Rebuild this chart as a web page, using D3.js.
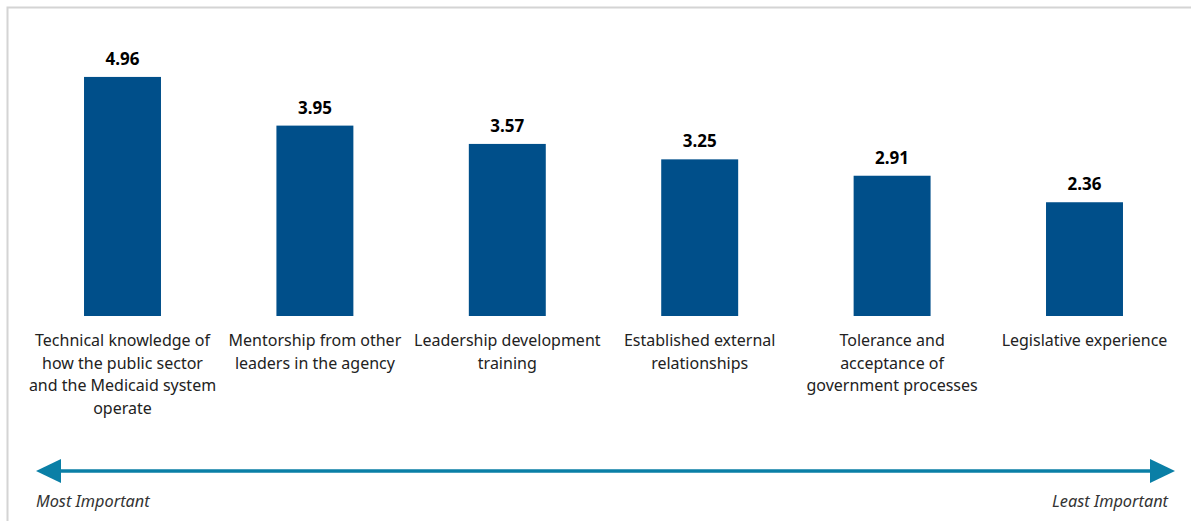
<!DOCTYPE html>
<html>
<head>
<meta charset="utf-8">
<script src="https://cdn.jsdelivr.net/npm/d3@7"></script>
<style>
  body { margin: 0; background: #fff; }
  svg { display: block; }
</style>
</head>
<body>
<div id="chart"></div>
<script>
const categories = [
  ["Technical knowledge of", "how the public sector", "and the Medicaid system", "operate"],
  ["Mentorship from other", "leaders in the agency"],
  ["Leadership development", "training"],
  ["Established external", "relationships"],
  ["Tolerance and", "acceptance of", "government processes"],
  ["Legislative experience"]
];
const values = [4.96, 3.95, 3.57, 3.25, 2.91, 2.36];
const arrowLabels = ["Most Important", "Least Important"];

const width = 1191, height = 521;
const font = "'Source Sans Pro', 'Noto Sans', sans-serif";

const svg = d3.select('#chart').append('svg')
  .attr('width', width)
  .attr('height', height);

// frame (only top/left edges show in the crop)
svg.append('rect')
  .attr('x', 7.5).attr('y', 7.5)
  .attr('width', 1300).attr('height', 700)
  .attr('fill', 'none')
  .attr('stroke', '#d4d4d4')
  .attr('stroke-width', 2);

const x = d3.scaleBand()
  .domain(d3.range(values.length))
  .range([26.3, 1180.7])
  .paddingInner(0.6)
  .paddingOuter(0.3);

const y = d3.scaleLinear()
  .domain([0, 5])
  .range([316, 316 - 5 * 48.2]);

svg.selectAll('rect.bar')
  .data(values)
  .enter()
  .append('rect')
  .attr('class', 'bar')
  .attr('x', (d, i) => x(i))
  .attr('y', d => y(d))
  .attr('width', x.bandwidth())
  .attr('height', d => y(0) - y(d))
  .attr('fill', '#004f8a');

svg.selectAll('text.val')
  .data(values)
  .enter()
  .append('text')
  .attr('class', 'val')
  .attr('x', (d, i) => x(i) + x.bandwidth() / 2)
  .attr('y', d => y(d) - 12)
  .attr('text-anchor', 'middle')
  .attr('font-family', font)
  .attr('font-size', '17px')
  .attr('font-weight', 'bold')
  .attr('fill', '#000')
  .text(d => d.toFixed(2));

const labels = svg.selectAll('text.cat')
  .data(categories)
  .enter()
  .append('text')
  .attr('class', 'cat')
  .attr('x', (d, i) => x(i) + x.bandwidth() / 2)
  .attr('y', 346)
  .attr('text-anchor', 'middle')
  .attr('font-family', font)
  .attr('font-size', '16px')
  .attr('fill', '#222');

labels.selectAll('tspan')
  .data(d => d)
  .enter()
  .append('tspan')
  .attr('x', function() { return d3.select(this.parentNode).attr('x'); })
  .attr('dy', (d, i) => i === 0 ? 0 : 22.6)
  .text(d => d);

// importance arrow
const arrowColor = '#0a7fa6';
const ay = 471;
svg.append('line')
  .attr('x1', 55).attr('x2', 1155)
  .attr('y1', ay).attr('y2', ay)
  .attr('stroke', arrowColor)
  .attr('stroke-width', 3.5);

svg.append('path')
  .attr('d', `M36,${ay} L61,${ay - 12} L61,${ay + 12} Z`)
  .attr('fill', arrowColor);
svg.append('path')
  .attr('d', `M1175,${ay} L1150,${ay - 12} L1150,${ay + 12} Z`)
  .attr('fill', arrowColor);

svg.append('text')
  .attr('x', 36).attr('y', 507)
  .attr('font-family', font)
  .attr('font-size', '16.3px')
  .attr('font-style', 'italic')
  .attr('fill', '#333')
  .text(arrowLabels[0]);

svg.append('text')
  .attr('x', 1168).attr('y', 507)
  .attr('text-anchor', 'end')
  .attr('font-family', font)
  .attr('font-size', '16.3px')
  .attr('font-style', 'italic')
  .attr('fill', '#333')
  .text(arrowLabels[1]);
</script>
</body>
</html>
